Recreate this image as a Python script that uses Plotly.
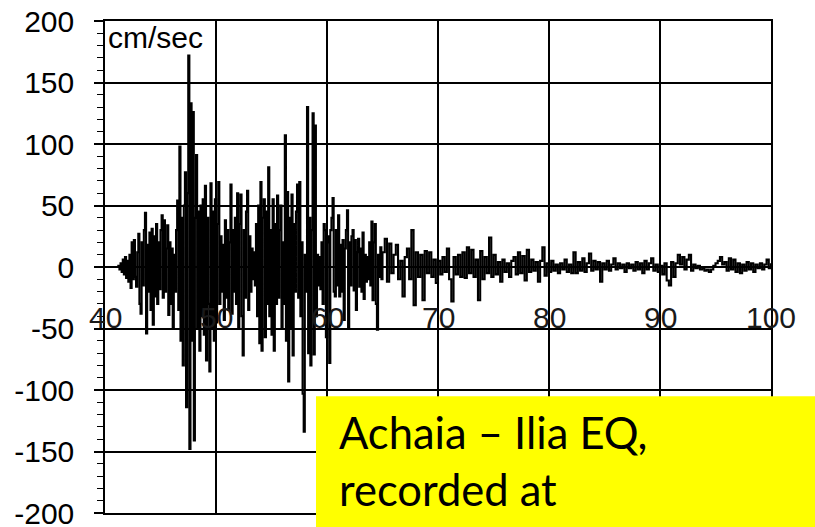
import numpy as np
import plotly.graph_objects as go

# Ground velocity record (cm/sec); strong-motion window sampled every 0.1 s
STRONG_T0, STRONG_DT = 40.0, 0.1
strong_motion = [
    0, 0, 0, 0, 0, 0, 0, 0, 0, 0,
    0, 0, 1, -2, 3, -4, 6, -6, 8, -9,
    5, -12, 10, -17, 20, -10, 22, -8, -16, 12,
    27, -30, -38, 20, -15, 30, 44, -54, 18, -20,
    28, -35, 31, -47, 25, -24, 35, -30, 20, -18,
    30, 42, -25, 38, -20, 15, 34, -39, 20, -30,
    15, -49, 10, -20, 30, 54, -35, 98, -60, 40,
    -80, 50, 77, -114, 60, 172, -148, 133, -60, 126,
    -141, 40, 91, -50, 45, -68, 50, -40, 55, -55,
    66, -76, 40, -30, -85, 68, -50, 45, -60, 55,
    -45, 35, 69, -30, 25, -20, 18, -43, 38, -25,
    30, -35, 20, 67, -38, 30, -20, 40, -30, 60,
    -49, 35, 59, -40, -72, 30, -25, 45, 62, -35,
    25, -20, 15, -10, 12, -15, 35, -40, 50, -62,
    69, -68, 40, 55, -57, 45, -30, 81, -40, 30,
    -55, 55, -68, 35, -30, 58, -25, 30, 50, -49,
    20, -30, 107, -60, 61, -93, 40, -50, 59, -72,
    35, -20, 45, 67, -25, 69, -40, 20, -103, -134,
    10, -20, 130, -70, 40, -80, 30, 125, -71, 115,
    -40, 10, -15, 8, -18, 20, -30, 35, 30, -57,
    20, 25, -78, 30, 40, 56, -20, -24, 30, -15,
    42, -24, 18, -20, 22, -43, 15, 30, 46, -49,
    20, -15, 25, 30, -19, 22, -35, 12, 23, -16,
    15, -20, 28, -26, 10, -12, 8, -10, 20, -15,
    37, -27, 20, 35, -30, -51, 10, -8, 16, -10,
    12,
]

# Coda, sampled every 0.2 s
CODA_T0, CODA_DT = 65.2, 0.2
coda = [
    23, -12, 19, -5, 10, 18, -10, 5, -24, 8,
    15, -10, 30, -31, 12, -8, 10, -27, 13, -5,
    12, -8, 6, -13, 5, -6, 8, -4, 15, -10,
    -28, 8, -6, 10, -8, 12, -9, 16, -5, 14,
    -8, 6, -27, 13, -10, 8, -5, 24, -8, 10,
    -6, 4, -12, 6, -4, 3, -8, 5, 8, -6,
    12, -5, 9, -11, 14, -4, 6, -3, 4, -12,
    5, 16, -7, 3, -4, 5, -3, 2, -5, 3,
    -2, 6, -4, 2, -5, 12, -5, 4, -3, 7,
    -4, 3, 11, -3, 5, -2, 4, -12, 3, -2,
    5, -3, 2, 7, -2, 3, -1, 2, -4, 3,
    -1, 2, -3, 4, -2, 3, -5, 5, -2, 3,
    7, -3, 2, -4, 1, -6, 3, -11, -15, 4,
    -8, 3, 10, 2, 8, -2, 6, 10, -3, 2,
    -1, 1, -2, -1, -3, -2, -4, -2, 1, 3,
    5, 8, 2, 4, -3, 7, -2, 6, -4, 3,
    -5, 2, -3, 4, -2, 3, -4, 2, -1, 3,
    -2, 2, 6, -1, 3,
]

x_ticks = [40, 50, 60, 70, 80, 90, 100]
x_tick_labels = ["40", "50", "60", "70", "80", "90", "100"]
y_ticks = [-200, -150, -100, -50, 0, 50, 100, 150, 200]
y_tick_labels = ["-200", "-150", "-100", "-50", "0", "50", "100", "150", "200"]
unit_label = "cm/sec"
caption_lines = ["Achaia – Ilia EQ,", "recorded at"]

t_strong = STRONG_T0 + STRONG_DT * np.arange(len(strong_motion))
t_coda = CODA_T0 + CODA_DT * np.arange(len(coda))
t = np.round(np.concatenate([t_strong, t_coda]), 3)
v = np.array(strong_motion + coda, dtype=float)

AXIS_FONT = dict(family="Liberation Sans, Arial, sans-serif", size=30, color="black")

fig = go.Figure(
    go.Scatter(
        x=t, y=v, mode="lines",
        line=dict(color="black", width=2.1, shape="hv"),
        hoverinfo="skip",
    )
)

fig.update_layout(
    width=815, height=527,
    margin=dict(l=105, r=44, t=21, b=14, autoexpand=False),
    paper_bgcolor="white", plot_bgcolor="white",
    showlegend=False,
    xaxis=dict(
        range=[40, 100], tickmode="array", tickvals=x_ticks,
        showticklabels=False, ticks="", automargin=False,
        showgrid=True, gridcolor="black", gridwidth=1.5,
        zeroline=False, showline=True, linecolor="black", linewidth=1.5,
        mirror=True,
    ),
    yaxis=dict(
        range=[-200, 200], tickmode="array", tickvals=y_ticks, ticktext=y_tick_labels,
        ticks="outside", ticklen=9, tickwidth=1.5, tickcolor="black",
        tickfont=AXIS_FONT, ticklabelstandoff=14, ticklabeloverflow="allow",
        automargin=False,
        showgrid=True, gridcolor="black", gridwidth=1.5,
        zeroline=False, showline=True, linecolor="black", linewidth=1.5,
        mirror=True,
        minor=dict(tickmode="linear", tick0=0, dtick=10, ticks="outside",
                   ticklen=6, tickwidth=1.2, tickcolor="black", showgrid=False),
    ),
)

# Time labels sit just above the -50 gridline
for xv, lab in zip(x_ticks, x_tick_labels):
    fig.add_annotation(
        x=xv, y=-50, xref="x", yref="y", text=lab, showarrow=False,
        xanchor="center", yanchor="bottom", yshift=-7,
        font=dict(family="Liberation Sans, Arial, sans-serif", size=30, color="#1a1a1a"),
    )

fig.add_annotation(
    x=0, y=1, xref="paper", yref="paper", text=unit_label, showarrow=False,
    xanchor="left", yanchor="top", xshift=1, yshift=2,
    font=AXIS_FONT,
)

# Caption box
fig.add_shape(
    type="rect", xref="paper", yref="paper",
    x0=0.3168, x1=1.07, y0=-0.04, y1=0.2372,
    fillcolor="#FFFF00", line=dict(width=0), layer="above",
)
for line_text, ypos in zip(caption_lines, [0.107, -0.0087]):
    fig.add_annotation(
        x=0.3483, y=ypos, xref="paper", yref="paper", text=line_text,
        showarrow=False, xanchor="left", yanchor="bottom",
        font=dict(family="Lato, sans-serif", size=43.5, color="black"),
    )

fig.write_html("out.html")
